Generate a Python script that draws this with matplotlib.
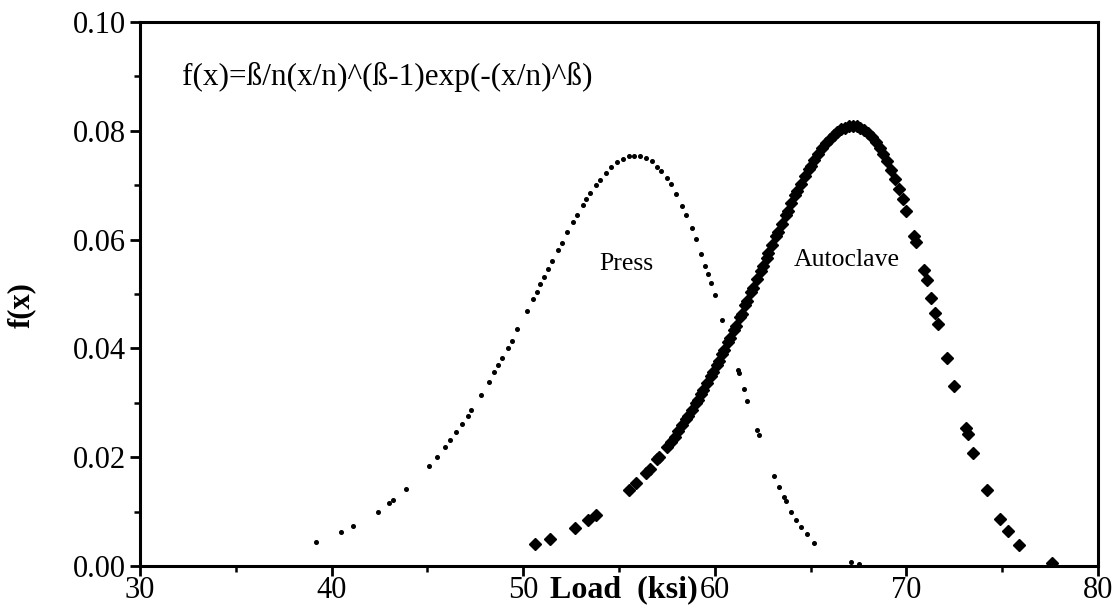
import matplotlib
matplotlib.use("Agg")
import matplotlib.pyplot as plt
from matplotlib.ticker import MultipleLocator, FormatStrFormatter

# ---- data ----
press_x = [39.2, 40.5, 41.1, 42.4, 43.0, 43.2, 43.9, 45.1, 45.5, 45.9,
           46.2, 46.5, 46.8, 47.1, 47.3, 47.8, 48.2, 48.5, 48.7, 48.9,
           49.2, 49.4, 49.7, 50.2, 50.5, 50.7, 50.9, 51.1, 51.3, 51.5,
           51.8, 52.0, 52.3, 52.6, 52.8, 53.1, 53.3, 53.5, 53.8, 54.0,
           54.3, 54.6, 54.9, 55.2, 55.5, 55.8, 56.1, 56.4, 56.7, 57.0,
           57.2, 57.5, 57.7, 58.0, 58.3, 58.5, 58.8, 59.0, 59.3, 59.5,
           59.65, 59.8, 60.0, 60.4, 61.2, 61.25, 61.5, 61.7, 62.2, 62.3,
           63.1, 63.35, 63.6, 63.7, 64.0, 64.25, 64.5, 64.8, 65.2, 67.1,
           67.5]
press_y = [.0045, .0063, .0073, .0100, .0115, .0121, .0142, .0184, .0200, .0218,
           .0231, .0246, .0261, .0276, .0287, .0315, .0338, .0356, .0369, .0382,
           .0401, .0414, .0435, .0469, .0490, .0504, .0518, .0532, .0546, .0560,
           .0580, .0594, .0614, .0633, .0646, .0663, .0675, .0686, .0701, .0710,
           .0722, .0733, .0742, .0748, .0753, .0754, .0754, .0750, .0744, .0734,
           .0727, .0713, .0702, .0683, .0662, .0646, .0621, .0602, .0573, .0552,
           .0536, .0520, .0499, .0453, .0361, .0355, .0326, .0304, .0250, .0240,
           .0166, .0145, .0126, .0119, .0100, .0085, .0072, .0058, .0043, .0007,
           .0004]

auto_x = [50.6, 51.4, 52.7, 53.4, 53.8, 55.5, 55.9, 56.4, 56.6, 57.0,
          57.1, 57.5, 57.7, 57.9, 58.1, 58.3, 58.5, 58.6, 58.8, 59.0,
          59.1, 59.3, 59.4, 59.6, 59.8, 59.9, 60.1, 60.2, 60.4, 60.5,
          60.7, 60.8, 61.0, 61.1, 61.3, 61.4, 61.6, 61.7, 61.9, 62.0,
          62.2, 62.4, 62.5, 62.7, 62.8, 63.0, 63.2, 63.3, 63.5, 63.7,
          63.8, 64.0, 64.2, 64.3, 64.5, 64.7, 64.9, 65.0, 65.2, 65.4,
          65.6, 65.8, 66.0, 66.2, 66.4, 66.6, 66.8, 67.0, 67.2, 67.4,
          67.6, 67.8, 68.0, 68.2, 68.4, 68.6, 68.8, 69.0, 69.2, 69.4,
          69.6, 69.8, 70.0, 70.4, 70.5, 70.9, 71.05, 71.3, 71.5, 71.65,
          72.1, 72.5, 73.1, 73.2, 73.5, 74.2, 74.9, 75.3, 75.9, 77.6]
auto_y = [.0041, .0050, .0070, .0084, .0093, .0139, .0153, .0171, .0179, .0196,
          .0200, .0219, .0228, .0238, .0249, .0259, .0270, .0275, .0287, .0299,
          .0305, .0317, .0323, .0336, .0349, .0356, .0369, .0376, .0390, .0397,
          .0411, .0419, .0434, .0441, .0457, .0464, .0480, .0487, .0503, .0511,
          .0527, .0543, .0551, .0567, .0575, .0590, .0606, .0614, .0629, .0645,
          .0653, .0668, .0682, .0689, .0703, .0717, .0729, .0735, .0747, .0758,
          .0768, .0777, .0785, .0792, .0798, .0803, .0806, .0808, .0809, .0808,
          .0805, .0801, .0796, .0789, .0780, .0769, .0757, .0744, .0728, .0712,
          .0693, .0674, .0653, .0607, .0596, .0545, .0526, .0492, .0465, .0445,
          .0383, .0330, .0254, .0242, .0208, .0139, .0087, .0064, .0038, .0006]

xticks = [30, 40, 50, 60, 70, 80]
yticks = [0.00, 0.02, 0.04, 0.06, 0.08, 0.10]
formula = "f(x)=ß/n(x/n)^(ß-1)exp(-(x/n)^ß)"

plt.rcParams['font.family'] = ['Liberation Serif', 'DejaVu Serif']

W, H = 1119, 610
fig = plt.figure(figsize=(W / 100, H / 100), dpi=100)
L, R, T, B = 140, 1098, 22, 566
ax = fig.add_axes([L / W, 1 - B / H, (R - L) / W, (B - T) / H])

ax.plot(press_x, press_y, linestyle='none', marker='o', ms=2.6,
        color='black', mec='black')
ax.plot(auto_x, auto_y, linestyle='none', marker='D', ms=5.8,
        color='black', mec='black')

ax.set_xlim(30, 80)
ax.set_ylim(0, 0.10)
ax.set_xticks(xticks)
ax.set_yticks(yticks)
ax.xaxis.set_minor_locator(MultipleLocator(5))
ax.yaxis.set_minor_locator(MultipleLocator(0.01))
ax.yaxis.set_major_formatter(FormatStrFormatter('%.2f'))

for s in ax.spines.values():
    s.set_linewidth(2.2)
ax.tick_params(which='major', direction='out', length=7, width=2,
               labelsize=22, pad=0.5)
ax.tick_params(which='minor', direction='out', length=4, width=1.8)
ax.tick_params(axis='y', pad=3)

ax.set_xlabel("Load  (ksi)", fontsize=23, fontweight='bold')
ax.xaxis.set_label_coords((624 - L) / (R - L), -(575 - B) / (B - T))
ax.set_ylabel("f(x)", fontsize=22, fontweight='bold')
ax.yaxis.set_label_coords(-(L - 36) / (R - L), (B - 305) / (B - T))

ax.text(32.2, 0.0898, formula, fontsize=22.5, ha='left', va='center')
ax.text(55.4, 0.0556, "Press", fontsize=18.5, ha='center', va='center')
ax.text(66.9, 0.0562, "Autoclave", fontsize=18.5, ha='center', va='center')

fig.savefig("out.png", dpi=100)
